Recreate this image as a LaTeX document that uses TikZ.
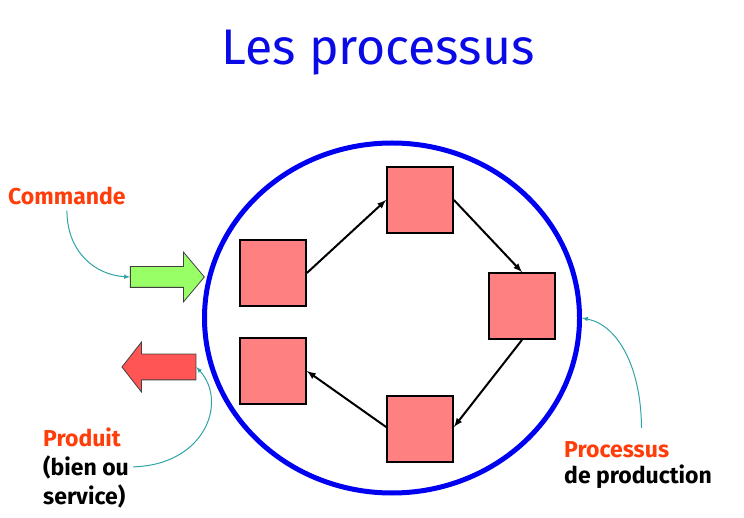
\documentclass[tikz,border=0pt]{standalone}
\usepackage{fontspec}
\setmainfont{Fira Sans}
\usepackage{tikz}
\usetikzlibrary{shapes.geometric,shapes.arrows}
\definecolor{titre}{HTML}{0A0AE6}
\definecolor{bleu}{HTML}{0000F0}
\definecolor{orangevif}{HTML}{FF3D0A}
\definecolor{saumon}{HTML}{FF8080}
\definecolor{vert}{HTML}{99FF66}
\definecolor{rouge}{HTML}{FF5555}
\definecolor{contour}{HTML}{404040}
\definecolor{sarcelle}{HTML}{30A3A3}

\begin{document}
\begin{tikzpicture}[x=1pt, y=1pt,
  etape/.style={draw=black, line width=1.8pt, fill=saumon, minimum size=66pt, inner sep=0pt},
  fleche/.style={-latex, line width=2pt},
  lien/.style={-latex, draw=sarcelle, line width=1pt},
  etiq/.style={font=\fontsize{23}{27}\selectfont\bfseries, inner sep=0pt, anchor=base west},
  bloc/.style={single arrow, draw=contour, line width=0.8pt, minimum height=74pt, inner xsep=0pt}]
  \useasboundingbox (0,0) rectangle (744,517);

  % Titre
  \node[font=\fontsize{50}{60}\selectfont, text=titre, anchor=base] (titre) at (378,452) {Les processus};

  % Processus (cercle)
  \node[ellipse, draw=bleu, line width=5pt, minimum width=375pt, minimum height=350pt, inner sep=0pt] (proc) at (392,199) {};

  % Etapes
  \node[etape] (e1) at (273,244) {};
  \node[etape] (e2) at (420,317) {};
  \node[etape] (e3) at (522,211) {};
  \node[etape] (e4) at (420,88) {};
  \node[etape] (e5) at (273,146) {};

  \draw[fleche] (e1.east) -- (e2.west);
  \draw[fleche] (e2.east) -- (e3.north);
  \draw[fleche] (e3.south) -- ([yshift=2pt]e4.east);
  \draw[fleche] ([yshift=2pt]e4.west) -- (e5.east);

  % Entree / sortie
  \node[bloc, fill=vert, inner ysep=10pt, single arrow head extend=14.5pt, single arrow tip angle=100] (entree) at (163,240) {};
  \node[bloc, fill=rouge, inner ysep=12.5pt, single arrow head extend=12pt, single arrow tip angle=104, shape border rotate=180] (sortie) at (164,150) {};

  % Etiquettes
  \node[etiq, text=orangevif] (cmd) at (8,312) {Commande};
  \node[etiq, text=orangevif] (prodA) at (43,71) {Produit};
  \node[etiq] (prodB) at (43,42) {(bien ou};
  \node[etiq] (prodC) at (43,13) {service)};
  \node[etiq, text=orangevif] (procA) at (564,60) {Processus};
  \node[etiq] (procB) at (564,34) {de production};

  % Liens
  \draw[lien, shorten <=5pt] (cmd.south) .. controls (67,265) and (95,242) .. (entree.tail);
  \draw[lien, shorten <=4pt] (prodB.east) .. controls (205,52) and (228,115) .. (sortie.tail);
  \draw[lien, shorten <=13pt] ([xshift=25pt]procA.north) .. controls (641,150) and (618,192) .. (proc.east);
\end{tikzpicture}
\end{document}
